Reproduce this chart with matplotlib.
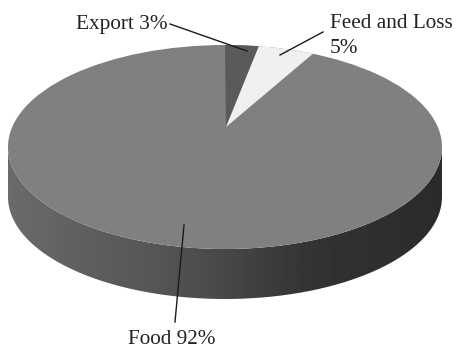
import numpy as np
import matplotlib
matplotlib.use("Agg")
import matplotlib.pyplot as plt
from matplotlib.patches import Polygon, PathPatch, Ellipse
from matplotlib.path import Path

categories = ["Export", "Feed and Loss", "Food"]
shares = [3, 5, 92]
label_texts = ["Export 3%", "Feed and Loss\n5%", "Food 92%"]

plt.rcParams["font.family"] = ["Liberation Serif", "DejaVu Serif"]

W, H = 457, 349
fig = plt.figure(figsize=(W / 100, H / 100), dpi=100)
ax = fig.add_axes([0, 0, 1, 1])
ax.set_xlim(0, W)
ax.set_ylim(H, 0)
ax.axis("off")

cx, cy, a, b = 225, 147, 217, 102   # ellipse of the top surface
depth = 50
apex = (226, 127)
sweep = 0.83                        # foreshortening of the rear sector

# side wall with a horizontal gradient
t = np.linspace(0, np.pi, 200)
xs = cx + a * np.cos(t)
ys = cy + b * np.sin(t)
outline = np.concatenate([
    np.column_stack([xs[::-1], ys[::-1] + depth]),
    np.column_stack([xs, ys]),
])
side = Path(outline, closed=False)
stops_x = [0, 0.18, 0.33, 0.5, 0.7, 1]
stops_v = [0.42, 0.37, 0.34, 0.28, 0.20, 0.17]
grad = np.interp(np.linspace(0, 1, 440), stops_x, stops_v)[None, :]
im = ax.imshow(grad, cmap="gray", vmin=0, vmax=1, aspect="auto",
               extent=(cx - a, cx + a, cy + b + depth, cy - b), zorder=1)
ax.set_xlim(0, W)
ax.set_ylim(H, 0)
clip = PathPatch(side, transform=ax.transData, fc="none", ec="none")
ax.add_patch(clip)
im.set_clip_path(clip)

# top surface: Food fills the ellipse, the small sectors are laid over it
ax.add_patch(Ellipse((cx, cy), 2 * a, 2 * b, fc="#808080", ec="none", zorder=2))

colors = {"Export": "#5a5a5a", "Feed and Loss": "#eff1f0"}
start = 0.0
for name, share in zip(categories, shares):
    extent = share / 100 * 2 * np.pi * sweep
    if name in colors:
        th = np.linspace(start, start + extent, 40)
        px = cx + a * np.sin(th)
        py = cy - b * np.cos(th)
        pts = np.vstack([[apex], np.column_stack([px, py])])
        ax.add_patch(Polygon(pts, closed=True, fc=colors[name], ec="none", zorder=3))
    start += extent

# labels with leader lines
fs = 15.3
ax.text(76, 24, label_texts[0], fontsize=fs, va="center", ha="left", color="#222222", zorder=5)
ax.text(330, 36, label_texts[1], fontsize=fs, va="center", ha="left", color="#222222",
        linespacing=1.4, multialignment="left", zorder=5)
ax.text(172, 340, label_texts[2], fontsize=fs, va="center", ha="center", color="#222222", zorder=5)
for p, q in [((170, 24), (247, 51)), ((323, 32), (280, 55)), ((175, 322), (184, 225))]:
    ax.plot([p[0], q[0]], [p[1], q[1]], color="#1a1a1a", lw=1.0, zorder=4)

fig.savefig("out.png", dpi=100, facecolor="white")
